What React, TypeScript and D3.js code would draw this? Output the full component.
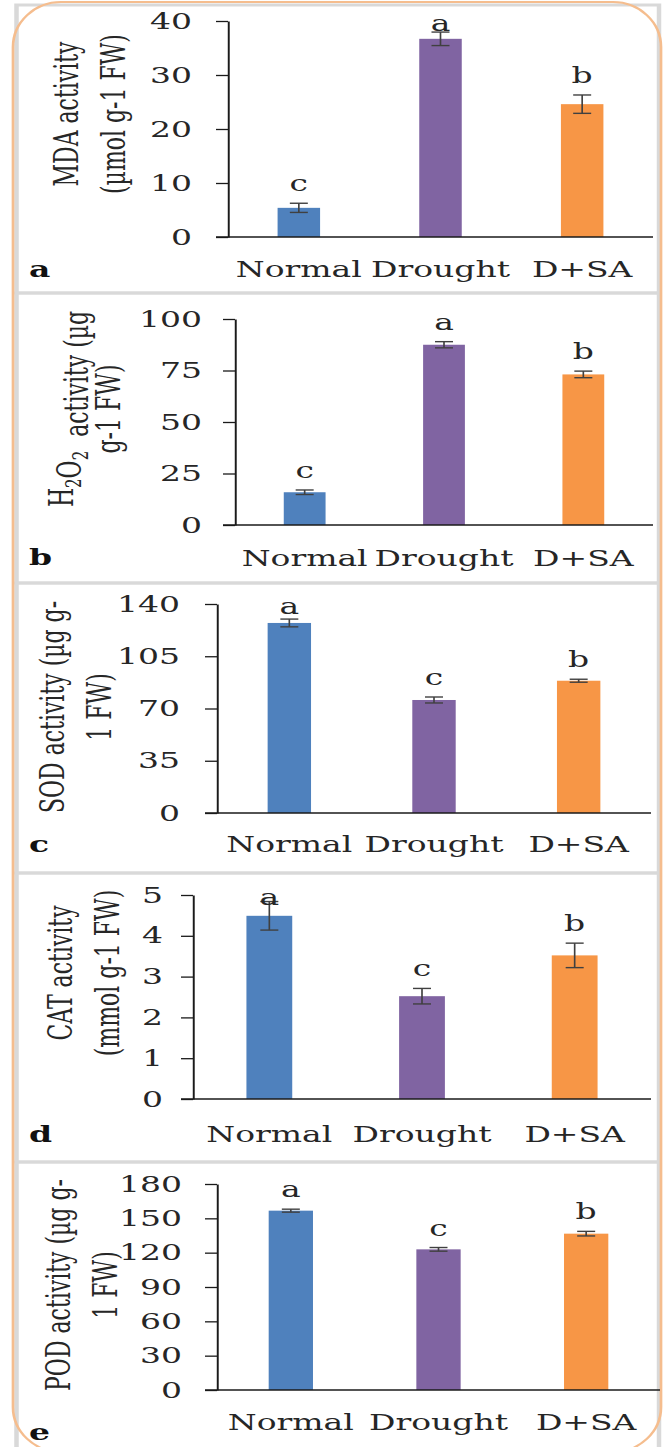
import React, { useEffect, useRef } from 'react';
import * as d3 from 'd3';

// categories + colours shared by all five panels
const categories = ['Normal', 'Drought', 'D+SA'];
const barColors = ['#4f81bd', '#8064a2', '#f79646'];

const mdaValues = [5.4, 36.7, 24.6];
const mdaErrors = [0.85, 1.25, 1.7];
const mdaLetters = ['c', 'a', 'b'];
const mdaTicks = [0, 10, 20, 30, 40];

const h2o2Values = [15.9, 87.5, 73.1];
const h2o2Errors = [1.1, 1.5, 1.6];
const h2o2Letters = ['c', 'a', 'b'];
const h2o2Ticks = [0, 25, 50, 75, 100];

const sodValues = [127.3, 75.7, 88.6];
const sodErrors = [2.6, 2.0, 1.0];
const sodLetters = ['a', 'c', 'b'];
const sodTicks = [0, 35, 70, 105, 140];

const catValues = [4.49, 2.52, 3.52];
const catErrors = [0.35, 0.19, 0.3];
const catLetters = ['a', 'c', 'b'];
const catTicks = [0, 1, 2, 3, 4, 5];

const podValues = [156.7, 122.9, 136.6];
const podErrors = [1.3, 1.6, 2.0];
const podLetters = ['a', 'c', 'b'];
const podTicks = [0, 30, 60, 90, 120, 150, 180];

// the source figure is stretched sideways, so draw in a narrower box and stretch it
const W = 663;
const H = 1447;
const S = 1.5;
const sx = (px: number) => px / S;
const FONT = '"DejaVu Serif", "Liberation Serif", serif';
const INK = '#262626';

const panels = [
    { tag: 'a', tagY: 277, labelY: 277, gap: 36, values: mdaValues, errors: mdaErrors, letters: mdaLetters, ticks: mdaTicks,
      title: [['MDA activity'], ['(µmol g-1 FW)']], axisX: 228, right: 653, top: 21, zero: 237,
      titleX: 78, titleY: 114, frame: [5, 293] },
    { tag: 'b', tagY: 565, labelY: 566, gap: 33, values: h2o2Values, errors: h2o2Errors, letters: h2o2Letters, ticks: h2o2Ticks,
      title: [['H', '2', 'O', '2', '\u00a0\u00a0activity (µg'], ['g-1 FW)']], axisX: 235, right: 653, top: 319, zero: 525,
      titleX: 73, titleY: 409, frame: [293, 583] },
    { tag: 'c', tagY: 852, labelY: 852, gap: 37, values: sodValues, errors: sodErrors, letters: sodLetters, ticks: sodTicks,
      title: [['SOD activity (µg g-'], ['1 FW)']], axisX: 217, right: 651, top: 604, zero: 813,
      titleX: 64, titleY: 707, frame: [583, 873] },
    { tag: 'd', tagY: 1142, labelY: 1142, gap: 30, values: catValues, errors: catErrors, letters: catLetters, ticks: catTicks,
      title: [['CAT activity'], ['(mmol g-1 FW)']], axisX: 193, right: 651, top: 895, zero: 1099,
      titleX: 72, titleY: 973, frame: [873, 1162] },
    { tag: 'e', tagY: 1440, labelY: 1430, gap: 35, values: podValues, errors: podErrors, letters: podLetters, ticks: podTicks,
      title: [['POD activity (µg g-'], ['1 FW)']], axisX: 217, right: 660, top: 1184, zero: 1390,
      titleX: 70, titleY: 1285, frame: [1162, 1470] },
];

const App = () => {
    const svgRef = useRef<SVGSVGElement>(null);

    useEffect(() => {
        const svg = d3.select(svgRef.current);
        svg.selectAll('*').remove();

        svg.append('rect').attr('width', sx(W)).attr('height', H).attr('fill', '#fff');

        // grey panel frames
        panels.forEach(p => {
            svg.append('rect')
                .attr('x', sx(16.5))
                .attr('y', p.frame[0])
                .attr('width', sx(659 - 16.5))
                .attr('height', p.frame[1] - p.frame[0])
                .attr('fill', 'none')
                .attr('stroke', '#d9d9d9')
                .attr('stroke-width', 3);
        });

        // orange rounded outline
        svg.append('rect')
            .attr('x', sx(13))
            .attr('y', 2)
            .attr('width', sx(648))
            .attr('height', 1450)
            .attr('rx', sx(48))
            .attr('ry', 45)
            .attr('fill', 'none')
            .attr('stroke', '#f5bd8e')
            .attr('stroke-width', 1.8);

        panels.forEach(p => {
            const g = svg.append('g');
            const max = p.ticks[p.ticks.length - 1];

            const x = d3.scaleBand<string>()
                .domain(categories)
                .range([sx(p.axisX), sx(p.right)]);
            const step = x.step();

            const y = d3.scaleLinear()
                .domain([0, max])
                .range([p.zero, p.top]);

            // bars
            g.selectAll('rect.bar')
                .data(p.values)
                .join('rect')
                .attr('class', 'bar')
                .attr('x', (d, i) => (x(categories[i]) as number) + step * 0.35)
                .attr('width', step * 0.3)
                .attr('y', d => y(d))
                .attr('height', d => y(0) - y(d))
                .attr('fill', (d, i) => barColors[i]);

            // error bars
            p.values.forEach((v, i) => {
                const cx = (x(categories[i]) as number) + step / 2;
                const hi = y(v + p.errors[i]);
                const lo = y(v - p.errors[i]);
                g.append('line')
                    .attr('x1', cx).attr('x2', cx)
                    .attr('y1', hi).attr('y2', lo)
                    .attr('stroke', '#404040').attr('stroke-width', 1.1);
                [hi, lo].forEach(yy => {
                    g.append('line')
                        .attr('x1', cx - sx(9)).attr('x2', cx + sx(9))
                        .attr('y1', yy).attr('y2', yy)
                        .attr('stroke', '#404040').attr('stroke-width', 1.4);
                });

                // significance letter
                const ly = Math.max(hi - 12, p.top + 10);
                g.append('text')
                    .attr('x', cx)
                    .attr('y', ly)
                    .attr('text-anchor', 'middle')
                    .attr('font-family', FONT)
                    .attr('font-size', 22)
                    .attr('fill', INK)
                    .text(p.letters[i]);
            });

            // y axis
            const yAxis = g.append('g')
                .attr('transform', `translate(${sx(p.axisX)},0)`)
                .call(d3.axisLeft(y)
                    .tickValues(p.ticks)
                    .tickSize(sx(12))
                    .tickSizeOuter(0)
                    .tickPadding(sx(p.gap - 12))
                    .tickFormat(d => String(d)));
            yAxis.selectAll('path, line').attr('stroke', '#1a1a1a').attr('stroke-width', 1.3);
            yAxis.selectAll('text')
                .attr('font-family', FONT)
                .attr('font-size', 22)
                .attr('fill', INK);

            // x axis baseline
            g.append('line')
                .attr('x1', sx(p.axisX - 12)).attr('x2', sx(p.right))
                .attr('y1', p.zero).attr('y2', p.zero)
                .attr('stroke', '#1a1a1a').attr('stroke-width', 1.6);

            // category labels
            g.selectAll('text.cat')
                .data(categories)
                .join('text')
                .attr('class', 'cat')
                .attr('x', d => (x(d) as number) + step / 2)
                .attr('y', p.labelY)
                .attr('text-anchor', 'middle')
                .attr('font-family', FONT)
                .attr('font-size', 22)
                .attr('fill', INK)
                .text(d => d);

            // rotated y title, two lines
            const title = g.append('text')
                .attr('transform', `translate(${sx(p.titleX)},${p.titleY}) rotate(-90)`)
                .attr('text-anchor', 'middle')
                .attr('font-family', FONT)
                .attr('font-size', 22)
                .attr('fill', INK);
            p.title.forEach((parts, li) => {
                const line = title.append('tspan')
                    .attr('x', 0)
                    .attr('y', li * sx(47));
                parts.forEach(part => {
                    const sub = part === '2';
                    line.append('tspan')
                        .attr('font-size', sub ? 15 : 22)
                        .attr('dy', sub ? 5 : 0)
                        .text(part);
                    if (sub) line.append('tspan').attr('dy', -5).text('');
                });
            });

            // panel tag
            g.append('text')
                .attr('x', sx(29))
                .attr('y', p.tagY)
                .attr('font-family', FONT)
                .attr('font-size', 22)
                .attr('font-weight', 'bold')
                .attr('fill', '#111')
                .text(p.tag);
        });
    }, []);

    return (
        <svg
            ref={svgRef}
            width={W}
            height={H}
            viewBox={`0 0 ${sx(W)} ${H}`}
            preserveAspectRatio="none"
            style={{ position: 'absolute', left: 0, top: 0, display: 'block' }}
        />
    );
};

export default App;
